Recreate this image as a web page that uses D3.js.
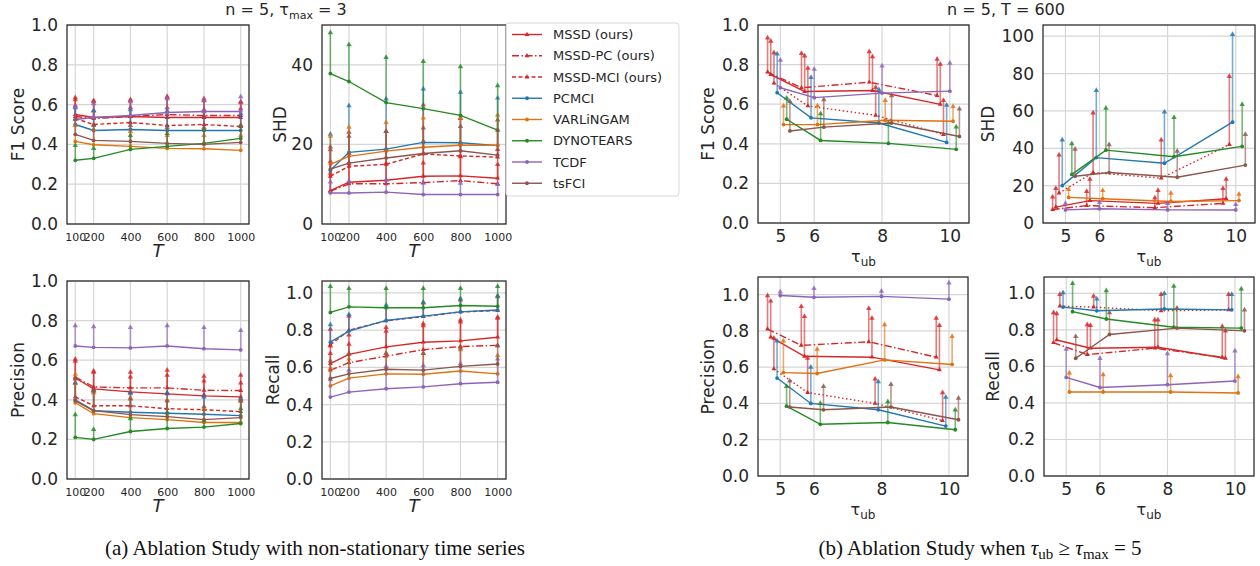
<!DOCTYPE html>
<html>
<head>
<meta charset="utf-8">
<script src="https://cdn.jsdelivr.net/npm/d3@7"></script>
<style>
body{margin:0;background:#fff;}
svg{display:block;font-family:"DejaVu Sans",sans-serif;}
</style>
</head>
<body>
<svg id="chart" width="1260" height="566"></svg>
<script>
var methods = ["MSSD (ours)","MSSD-PC (ours)","MSSD-MCI (ours)","PCMCI","VARLiNGAM","DYNOTEARS","TCDF","tsFCI"];
var colors = ["#d62728","#d62728","#d62728","#1f77b4","#e0720f","#238b23","#8d64ba","#8c564b"];
var T = [100,200,400,600,800,1000];
var tauUb = [5,6,8,10];
// x-order rank of each method in (b), methods are dodged around tau
var dodgeRank = [1,0,2,3,5,6,4,7];

// (a) non-stationary, rows follow methods
var aF1 = [[0.55,0.535,0.54,0.535,0.535,0.535],[0.54,0.53,0.54,0.55,0.545,0.545],[0.53,0.50,0.51,0.495,0.50,0.49],[0.50,0.47,0.475,0.47,0.47,0.47],[0.415,0.398,0.39,0.38,0.378,0.37],[0.32,0.33,0.375,0.39,0.405,0.43],[0.525,0.535,0.545,0.56,0.565,0.565],[0.45,0.42,0.415,0.405,0.40,0.41]];
var aF1Err = [[0.09,0.09,0.09,0.11,0.10,0.085],[0.09,0.09,0.085,0.09,0.08,0.07],[0.07,0.075,0.08,0.095,0.08,0.095],[0.09,0.105,0.105,0.105,0.10,0.09],[0.085,0.082,0.08,0.07,0.072,0.08],[0.08,0.055,0.075,0.07,0.075,0.07],[0.07,0.075,0.075,0.075,0.065,0.08],[0.08,0.08,0.085,0.085,0.09,0.09]];
var aSHD = [[8.4,10.5,11,12,12.1,11.5],[8.2,10.1,10.1,10.4,10.9,10.1],[12,14.5,15,17.6,17.1,16.8],[13.5,18,18.8,20.5,20.4,19.7],[15,17,18.3,19.3,19.8,19.8],[37.8,35.8,30.5,29,27.3,23.6],[7.8,7.8,8.0,7.4,7.4,7.4],[13.8,15.3,16.6,17.7,18.4,17.3]];
var aSHDErr = [[7.6,7.5,8,9,8.4,7.5],[4.8,5.4,5.4,5.2,6.3,5.1],[6.9,8.8,8.5,12.6,9.7,9.6],[9.3,12,12.9,13.7,13,12.2],[7.3,7.6,7.5,7.6,7.2,7.8],[10.5,9.5,11.6,12.1,12.5,11.4],[3,3.2,3.4,3.1,3.1,2.8],[5.8,7,6.9,6.7,6.4,6.5]];
var aPrec = [[0.51,0.455,0.44,0.43,0.42,0.415],[0.515,0.465,0.46,0.46,0.448,0.447],[0.415,0.37,0.37,0.355,0.35,0.34],[0.40,0.345,0.337,0.332,0.327,0.32],[0.385,0.33,0.31,0.30,0.285,0.285],[0.21,0.20,0.24,0.255,0.262,0.28],[0.672,0.665,0.662,0.672,0.658,0.652],[0.395,0.345,0.325,0.315,0.30,0.31]];
var aPrecErr = [[0.10,0.095,0.105,0.125,0.105,0.115],[0.085,0.08,0.06,0.07,0.052,0.043],[0.075,0.085,0.07,0.085,0.08,0.07],[0.09,0.105,0.103,0.108,0.093,0.09],[0.15,0.11,0.105,0.105,0.075,0.115],[0.12,0.055,0.07,0.085,0.038,0.08],[0.108,0.11,0.108,0.108,0.112,0.103],[0.115,0.105,0.085,0.085,0.07,0.09]];
var aRec = [[0.62,0.67,0.71,0.735,0.742,0.762],[0.585,0.625,0.66,0.695,0.712,0.718],[0.72,0.80,0.85,0.872,0.898,0.905],[0.735,0.795,0.852,0.875,0.898,0.908],[0.50,0.542,0.565,0.563,0.58,0.565],[0.895,0.925,0.92,0.92,0.932,0.928],[0.44,0.467,0.485,0.495,0.512,0.52],[0.54,0.565,0.59,0.585,0.605,0.618]];
var aRecErr = [[0.10,0.11,0.11,0.105,0.118,0.113],[0.095,0.105,0.14,0.135,0.138,0.152],[0.09,0.08,0.08,0.08,0.07,0.08],[0.10,0.095,0.088,0.08,0.077,0.082],[0.10,0.108,0.115,0.117,0.12,0.105],[0.145,0.105,0.11,0.11,0.098,0.112],[0.10,0.123,0.125,0.12,0.113,0.13],[0.10,0.115,0.09,0.095,0.105,0.102]];

// (b) tau_ub >= tau_max = 5
var bF1 = [[0.75,0.664,0.669,0.599],[0.762,0.683,0.711,0.644],[0.706,0.591,0.544,0.447],[0.658,0.531,0.505,0.407],[0.497,0.497,0.519,0.514],[0.524,0.417,0.402,0.372],[0.683,0.633,0.656,0.666],[0.465,0.484,0.505,0.437]];
var bF1Err = [[0.174,0.185,0.176,0.208],[0.178,0.179,0.159,0.188],[0.159,0.196,0.146,0.177],[0.201,0.209,0.173,0.193],[0.10,0.10,0.105,0.08],[0.112,0.14,0.108,0.118],[0.145,0.149,0.142,0.146],[0.154,0.144,0.143,0.144]];
var bSHD = [[8.5,12,10.5,13],[7.2,9.3,8.2,10.5],[16,27,24,42],[20,35,32,54],[13.7,13,11.5,12],[26,39,35.5,41],[7,7.6,7,7],[25,27,24.5,31]];
var bSHDErr = [[10.5,12,7.5,11],[7.3,8.2,5.8,8.5],[21,32.5,21,37],[25,36.5,28,47.5],[4.8,5,5,4],[17,23,21.5,23],[4,3.9,4,3.5],[15,15.5,14.5,17]];
var bPrec = [[0.765,0.66,0.655,0.585],[0.81,0.72,0.74,0.655],[0.59,0.46,0.40,0.305],[0.54,0.40,0.365,0.275],[0.57,0.565,0.64,0.615],[0.385,0.285,0.295,0.255],[0.995,0.985,0.99,0.975],[0.38,0.365,0.38,0.31]];
var bPrecErr = [[0.205,0.225,0.22,0.25],[0.19,0.22,0.19,0.22],[0.175,0.195,0.14,0.16],[0.21,0.205,0.16,0.165],[0.18,0.14,0.20,0.16],[0.115,0.12,0.12,0.115],[0.025,0.055,0.035,0.095],[0.15,0.135,0.13,0.125]];
var bRec = [[0.745,0.70,0.705,0.645],[0.73,0.665,0.70,0.65],[0.93,0.925,0.905,0.91],[0.925,0.905,0.915,0.91],[0.46,0.46,0.46,0.455],[0.90,0.86,0.815,0.81],[0.54,0.485,0.50,0.52],[0.645,0.775,0.81,0.795]];
var bRecErr = [[0.15,0.13,0.155,0.155],[0.17,0.17,0.16,0.175],[0.07,0.065,0.095,0.09],[0.085,0.07,0.09,0.09],[0.11,0.10,0.095,0.095],[0.16,0.16,0.23,0.22],[0.16,0.165,0.175,0.17],[0.125,0.125,0.115,0.12]];

var svg = d3.select("#chart");
var dashA = [null,"7,2.5,1.5,2.5","4,2.5",null,null,null,null,null];
var dashB = [null,"7,2.5,1.5,2.5","1.5,2.5",null,null,null,null,null];
var tri = d3.symbol().type(d3.symbolTriangle).size(13);
var triSmall = d3.symbol().type(d3.symbolTriangle).size(10);

function marker(sel, i, px, py){
    if(i < 3){
        sel.append("path").attr("d", triSmall()).attr("transform","translate("+px+","+py+")").attr("fill", colors[i]);
    } else {
        sel.append("circle").attr("cx", px).attr("cy", py).attr("r", 1.9).attr("fill", colors[i]);
    }
}

function panel(p){
    var g = svg.append("g");
    var xs = p.xv;
    var lo = d3.min(xs) + (p.dodge ? -4*0.094 : 0), hi = d3.max(xs) + (p.dodge ? 3*0.094 : 0);
    var pad = (hi - lo)*0.05;
    var x = d3.scaleLinear().domain([lo - pad, hi + pad]).range([p.l, p.r]);
    var y = d3.scaleLinear().domain(p.yd).range([p.b, p.t]);

    g.selectAll(".gx").data(p.xt).enter().append("line")
        .attr("x1", function(d){return x(d);}).attr("x2", function(d){return x(d);})
        .attr("y1", p.t).attr("y2", p.b)
        .attr("stroke", "#d6d6d6").attr("stroke-width", 1.2);
    g.selectAll(".gy").data(p.yt).enter().append("line")
        .attr("x1", p.l).attr("x2", p.r)
        .attr("y1", function(d){return y(d);}).attr("y2", function(d){return y(d);})
        .attr("stroke", "#d6d6d6").attr("stroke-width", 1.2);

    methods.forEach(function(m, i){
        var off = p.dodge ? (dodgeRank[i] - 4)*0.094 : 0;
        var pts = xs.map(function(v, j){ return {x: v + off, m: p.mean[i][j], e: p.err[i][j]}; });
        var c = colors[i];
        g.selectAll(null).data(pts).enter().append("line")
            .attr("x1", function(d){return x(d.x);}).attr("x2", function(d){return x(d.x);})
            .attr("y1", function(d){return y(d.m);}).attr("y2", function(d){return y(d.m + d.e);})
            .attr("stroke", c).attr("stroke-width", 1.6).attr("opacity", 0.6);
        g.selectAll(null).data(pts).enter().append("path")
            .attr("d", tri())
            .attr("transform", function(d){return "translate("+x(d.x)+","+(y(d.m + d.e)+1)+")";})
            .attr("fill", c).attr("opacity", 0.8);
        g.append("path").datum(pts)
            .attr("d", d3.line().x(function(d){return x(d.x);}).y(function(d){return y(d.m);}))
            .attr("fill", "none").attr("stroke", c).attr("stroke-width", 1.4)
            .attr("stroke-dasharray", (p.dodge ? dashB : dashA)[i]);
        pts.forEach(function(d){ marker(g, i, x(d.x), y(d.m)); });
    });

    g.append("rect").attr("x", p.l).attr("y", p.t).attr("width", p.r - p.l).attr("height", p.b - p.t)
        .attr("fill", "none").attr("stroke", "#262626").attr("stroke-width", 1.25);

    var ya = g.append("g").attr("transform", "translate("+p.l+",0)")
        .call(d3.axisLeft(y).tickValues(p.yt).tickFormat(p.yf).tickSize(0).tickPadding(9));
    ya.select(".domain").remove();
    ya.selectAll("text").attr("font-size", 17).attr("fill", "#262626").attr("font-family", "DejaVu Sans");

    var xa = g.append("g").attr("transform", "translate(0,"+p.b+")")
        .call(d3.axisBottom(x).tickValues(p.xt).tickFormat(d3.format("d")).tickSize(0).tickPadding(p.dodge ? 7 : 9));
    xa.select(".domain").remove();
    xa.selectAll("text").attr("font-size", p.dodge ? 17 : 11).attr("fill", "#262626").attr("font-family", "DejaVu Sans");

    g.append("text").attr("transform", "translate("+p.yl+","+((p.t + p.b)/2)+") rotate(-90)")
        .attr("text-anchor", "middle").attr("dominant-baseline", "central")
        .attr("font-size", 17).attr("fill", "#262626").text(p.ylabel);

    if(p.dodge){
        var xl = g.append("text").attr("x", (p.l + p.r)/2).attr("y", p.b + 39)
            .attr("text-anchor", "middle").attr("font-size", 16).attr("fill", "#262626");
        xl.append("tspan").text("τ");
        xl.append("tspan").attr("dy", 4).attr("font-size", 12).text("ub");
    } else {
        g.append("text").attr("x", (p.l + p.r)/2).attr("y", p.b + 33)
            .attr("text-anchor", "middle").attr("font-size", 18).attr("font-style", "italic")
            .attr("fill", "#262626").text("T");
    }
}

var f1 = d3.format(".1f");
var unit = [0,0.2,0.4,0.6,0.8,1.0];
panel({l:67, r:249, t:25, b:224, xv:T, xt:T, yd:[0,1], yt:unit, yf:f1, mean:aF1, err:aF1Err, ylabel:"F1 Score", yl:18});
panel({l:322, r:506, t:25, b:224, xv:T, xt:T, yd:[0,50], yt:[0,20,40], yf:d3.format("d"), mean:aSHD, err:aSHDErr, ylabel:"SHD", yl:280});
panel({l:67, r:249, t:281, b:479, xv:T, xt:T, yd:[0,1], yt:unit, yf:f1, mean:aPrec, err:aPrecErr, ylabel:"Precision", yl:18});
panel({l:322, r:506, t:281, b:479, xv:T, xt:T, yd:[0,1.064], yt:unit, yf:f1, mean:aRec, err:aRecErr, ylabel:"Recall", yl:273});

panel({l:758, r:969, t:25, b:223, xv:tauUb, xt:tauUb, dodge:true, yd:[0,1], yt:unit, yf:f1, mean:bF1, err:bF1Err, ylabel:"F1 Score", yl:708});
panel({l:1043, r:1255, t:25, b:223, xv:tauUb, xt:tauUb, dodge:true, yd:[0,106], yt:[0,20,40,60,80,100], yf:d3.format("d"), mean:bSHD, err:bSHDErr, ylabel:"SHD", yl:988});
panel({l:758, r:968, t:277, b:476, xv:tauUb, xt:tauUb, dodge:true, yd:[0,1.097], yt:unit, yf:f1, mean:bPrec, err:bPrecErr, ylabel:"Precision", yl:708});
panel({l:1044, r:1254, t:277, b:476, xv:tauUb, xt:tauUb, dodge:true, yd:[0,1.09], yt:unit, yf:f1, mean:bRec, err:bRecErr, ylabel:"Recall", yl:993});

// legend
var leg = svg.append("g");
leg.append("rect").attr("x", 506).attr("y", 23).attr("width", 173).attr("height", 173).attr("rx", 3)
    .attr("fill", "#fff").attr("fill-opacity", 0.85).attr("stroke", "#d8d8d8");
methods.forEach(function(m, i){
    var ly = 34.5 + i*21.25;
    leg.append("line").attr("x1", 512).attr("x2", 542).attr("y1", ly).attr("y2", ly)
        .attr("stroke", colors[i]).attr("stroke-width", 1.4).attr("stroke-dasharray", dashA[i]);
    marker(leg, i, 527, ly);
    leg.append("text").attr("x", 553).attr("y", ly).attr("dominant-baseline", "central")
        .attr("font-size", 13).attr("fill", "#262626").text(m);
});

// titles
var t1 = svg.append("text").attr("x", 286).attr("y", 15).attr("text-anchor", "middle").attr("font-size", 16).attr("fill", "#262626");
t1.append("tspan").text("n = 5, τ");
t1.append("tspan").attr("dy", 4).attr("font-size", 11).text("max");
t1.append("tspan").attr("dy", -4).text(" = 3");
svg.append("text").attr("x", 1006).attr("y", 15).attr("text-anchor", "middle").attr("font-size", 16).attr("fill", "#262626")
    .text("n = 5, T = 600");

// captions
svg.append("text").attr("x", 315).attr("y", 555).attr("text-anchor", "middle")
    .attr("font-family", "Liberation Serif").attr("font-size", 21).attr("fill", "#111")
    .text("(a) Ablation Study with non-stationary time series");
var cb = svg.append("text").attr("x", 980).attr("y", 555).attr("text-anchor", "middle")
    .attr("font-family", "Liberation Serif").attr("font-size", 21).attr("fill", "#111");
cb.append("tspan").text("(b) Ablation Study when ");
cb.append("tspan").attr("font-style", "italic").text("τ");
cb.append("tspan").attr("dy", 4).attr("font-size", 15).text("ub");
cb.append("tspan").attr("dy", -4).text(" ≥ ");
cb.append("tspan").attr("font-style", "italic").text("τ");
cb.append("tspan").attr("dy", 4).attr("font-size", 15).text("max");
cb.append("tspan").attr("dy", -4).text(" = 5");
</script>
</body>
</html>
